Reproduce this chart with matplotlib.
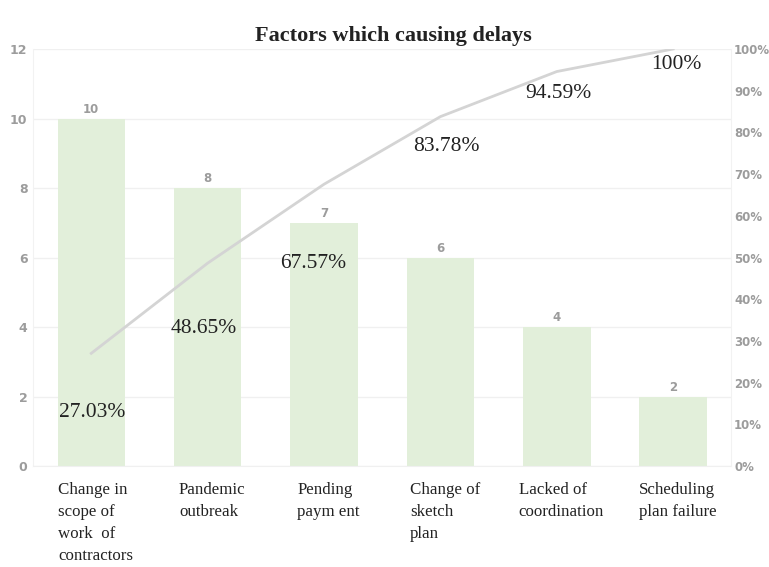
import matplotlib.pyplot as plt
import numpy as np

categories = ['Change in\nscope of\nwork  of\ncontractors', 'Pandemic\noutbreak', 'Pending\npaym ent',
              'Change of\nsketch\nplan', 'Lacked of\ncoordination', 'Scheduling\nplan failure']
counts = [10, 8, 7, 6, 4, 2]
cum_pct = [27.03, 48.65, 67.57, 83.78, 94.59, 100]
pct_labels = ['27.03%', '48.65%', '67.57%', '83.78%', '94.59%', '100%']

# where the Word-style percentage boxes sit, relative to the line
label_dx = [0.01, -0.03, -0.09, 0.05, 0.01, 0.03]
label_dy = [-14.3, -15.6, -18.9, -7.1, -5.2, -3.8]

fig = plt.figure(figsize=(7.69, 5.67), dpi=100)
ax = fig.add_axes([0.043, 0.178, 0.908, 0.7356])
ax2 = ax.twinx()

x = np.arange(len(categories))
grey = '#9c9c9c'

ax.bar(x, counts, width=0.58, color='#e2efda', zorder=2)
for xi, c in zip(x, counts):
    ax.text(xi, c + 0.08, str(c), ha='center', va='bottom', fontsize=8.5, color=grey, fontweight='bold')

ax.set_ylim(0, 12)
ax.set_xlim(-0.5, 5.5)
ax.set_yticks(range(0, 13, 2))
ax.grid(axis='y', color='#f0f0f0', linewidth=1, zorder=0)
ax.set_axisbelow(True)
ax.tick_params(axis='y', length=0, labelsize=9, labelcolor=grey, pad=4)
for lbl in ax.get_yticklabels():
    lbl.set_fontweight('bold')
ax.tick_params(axis='x', length=0)
ax.set_xticks(x)
ax.set_xticklabels([])
for s in ['top', 'right']:
    ax.spines[s].set_visible(False)
ax.spines['left'].set_color('#f2f2f2')
ax.spines['bottom'].set_color('#f0f0f0')

for xi, cat in zip(x, categories):
    ax.text(xi + 0.04, -0.45, cat, ha='center', va='top', multialignment='left', fontsize=12.2,
            family='Liberation Serif', linespacing=1.52, color='#222222')

ax2.plot(x, cum_pct, color='#d4d4d4', linewidth=2, zorder=3)
ax2.set_ylim(0, 100)
ax2.set_yticks(range(0, 101, 10))
ax2.set_yticklabels([f'{v}%' for v in range(0, 101, 10)])
ax2.tick_params(axis='y', length=0, labelsize=8.5, labelcolor=grey, pad=2)
for lbl in ax2.get_yticklabels():
    lbl.set_fontweight('bold')
for s in ['top', 'left', 'bottom']:
    ax2.spines[s].set_visible(False)
ax2.spines['right'].set_color('#f2f2f2')

for xi, p, lab, dx, dy in zip(x, cum_pct, pct_labels, label_dx, label_dy):
    ax2.text(xi + dx, p + dy, lab, ha='center', va='center', fontsize=15.5,
             family='Liberation Serif', color='#222222')

fig.text(0.511, 0.937, 'Factors which causing delays', ha='center', va='center', fontsize=16,
         family='Liberation Serif', fontweight='bold', color='#222222')

fig.savefig('out.png', dpi=100, facecolor='white')
